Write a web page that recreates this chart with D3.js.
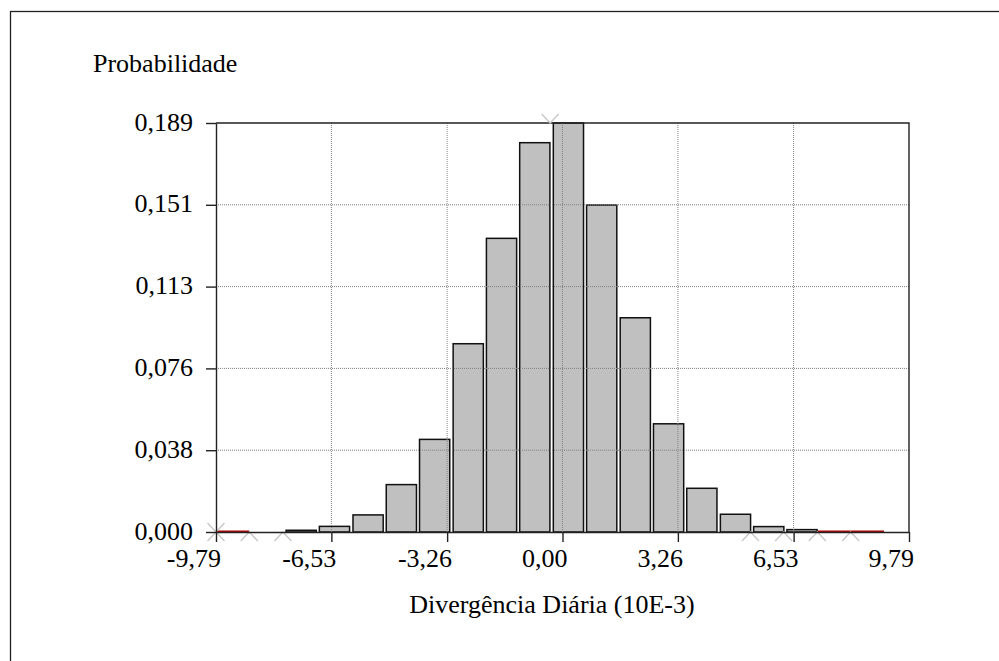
<!DOCTYPE html>
<html>
<head>
<meta charset="utf-8">
<script src="https://cdn.jsdelivr.net/npm/d3@7"></script>
<style>
  body { margin: 0; background: #fff; }
  text { font-family: "Liberation Serif", "Times New Roman", serif; font-size: 26px; fill: #000; }
</style>
</head>
<body>
<div id="chart"></div>
<script>
// histogram bins (lower edges) and probability of each bin
const binStarts = [-9.79, -8.85, -7.90, -6.96, -6.01, -5.07, -4.13, -3.18, -2.24, -1.30,
                   -0.35, 0.59, 1.54, 2.48, 3.42, 4.37, 5.31, 6.25, 7.20, 8.14];
const binWidth = 0.944;
const probs = [0.0002, 0, 0.0008, 0.0026, 0.0079, 0.0219, 0.0428, 0.0870, 0.1357, 0.1799,
               0.1890, 0.1511, 0.0990, 0.0500, 0.0202, 0.0082, 0.0025, 0.0011, 0.0002, 0.0002];
const xTicks = [-9.79, -6.53, -3.26, 0.00, 3.26, 6.53, 9.79];
const yTicks = [0, 0.0378, 0.0756, 0.1134, 0.1512, 0.189];
// bin edges marked with small grey chevrons
const lowMarks = [0, 1, 2, 16, 17, 18, 19];
const highMarks = [0, 10];

const W = 999, H = 661;
const margin = { top: 123, right: 90, bottom: 129, left: 216 };
const width = W - margin.left - margin.right;
const height = H - margin.top - margin.bottom;

const svg = d3.select("#chart").append("svg")
  .attr("width", W)
  .attr("height", H);

// outer frame (runs off the right and bottom of the picture)
svg.append("rect")
  .attr("x", 10.5).attr("y", 11.5)
  .attr("width", 1000).attr("height", 700)
  .attr("fill", "none").attr("stroke", "#222").attr("stroke-width", 1.3);

const g = svg.append("g")
  .attr("transform", "translate(" + margin.left + "," + margin.top + ")");

const x = d3.scaleLinear().domain([-9.79, 9.79]).range([0, width]);
const y = d3.scaleLinear().domain([0, 0.189]).range([height, 0]);
const fmt = v => d3.format(".2f")(v).replace(".", ",").replace("\u2212", "-");
const fmtY = v => d3.format(".3f")(v).replace(".", ",");

// bars
const gap = 3.2;
g.selectAll("rect.bar")
  .data(binStarts.map((s, i) => ({ s: s, p: probs[i] })).filter(d => d.p >= 0.0005))
  .enter().append("rect")
  .attr("class", "bar")
  .attr("x", d => x(d.s) + gap)
  .attr("y", d => y(d.p))
  .attr("width", d => x(d.s + binWidth) - x(d.s) - gap)
  .attr("height", d => y(0) - y(d.p))
  .attr("fill", "#c0c0c0")
  .attr("stroke", "#111")
  .attr("stroke-width", 1.5);

// very small bins drawn as red strokes on the baseline
g.selectAll("line.tiny")
  .data(binStarts.map((s, i) => ({ s: s, p: probs[i] })).filter(d => d.p > 0 && d.p < 0.0005))
  .enter().append("line")
  .attr("x1", d => x(d.s)).attr("x2", d => x(d.s + binWidth))
  .attr("y1", y(0) - 0.5).attr("y2", y(0) - 0.5)
  .attr("stroke", "#b00000").attr("stroke-width", 2.2);

// grid on top of bars
g.selectAll("line.vgrid")
  .data(xTicks.slice(1, -1))
  .enter().append("line")
  .attr("x1", d => x(d)).attr("x2", d => x(d))
  .attr("y1", 0).attr("y2", height)
  .attr("stroke", "#808080").attr("stroke-width", 1)
  .attr("stroke-dasharray", "1,1");
g.selectAll("line.hgrid")
  .data(yTicks.slice(1, -1))
  .enter().append("line")
  .attr("x1", 0).attr("x2", width)
  .attr("y1", d => y(d)).attr("y2", d => y(d))
  .attr("stroke", "#808080").attr("stroke-width", 1)
  .attr("stroke-dasharray", "1,1");

// plot border top and right
g.append("path")
  .attr("d", "M0,0H" + width + "V" + height)
  .attr("fill", "none").attr("stroke", "#222").attr("stroke-width", 1.4);

// chevron markers
const ch = 8.5, cv = 9;
g.selectAll("path.low")
  .data(lowMarks)
  .enter().append("path")
  .attr("d", i => {
    const px = x(binStarts[i]);
    return "M" + (px - ch) + "," + (height + cv) + "L" + px + "," + height + "L" + (px + ch) + "," + (height + cv);
  })
  .attr("fill", "none").attr("stroke", "#c8c8c8").attr("stroke-width", 1.4);
g.selectAll("path.high")
  .data(highMarks)
  .enter().append("path")
  .attr("d", i => {
    const px = x(binStarts[i]);
    const base = i === 0 ? height : 0;
    return "M" + (px - ch) + "," + (base - cv) + "L" + px + "," + base + "L" + (px + ch) + "," + (base - cv);
  })
  .attr("fill", "none").attr("stroke", "#c8c8c8").attr("stroke-width", 1.4);

// x axis
const xAxis = g.append("g")
  .attr("transform", "translate(0," + height + ")")
  .call(d3.axisBottom(x).tickValues(xTicks).tickSize(10).tickSizeOuter(0).tickFormat(fmt));
xAxis.select(".domain").attr("stroke", "#222").attr("stroke-width", 1.4);
xAxis.selectAll(".tick line").attr("stroke", "#222").attr("stroke-width", 1.4);
xAxis.selectAll(".tick text")
  .attr("font-family", null).attr("font-size", null)
  .attr("text-anchor", "end")
  .attr("dx", 4.5)
  .attr("y", 35).attr("dy", 0);

// y axis
const yAxis = g.append("g")
  .call(d3.axisLeft(y).tickValues(yTicks).tickSize(10).tickSizeOuter(0).tickFormat(fmtY));
yAxis.select(".domain").attr("stroke", "#222").attr("stroke-width", 1.4);
yAxis.selectAll(".tick line").attr("stroke", "#222").attr("stroke-width", 1.4);
yAxis.selectAll(".tick text")
  .attr("font-family", null).attr("font-size", null)
  .attr("x", -23).attr("dy", 7);

// axis titles
svg.append("text")
  .attr("x", 93).attr("y", 72)
  .text("Probabilidade");

svg.append("text")
  .attr("x", 552).attr("y", 613)
  .attr("text-anchor", "middle")
  .text("Divergência Diária (10E-3)");
</script>
</body>
</html>
